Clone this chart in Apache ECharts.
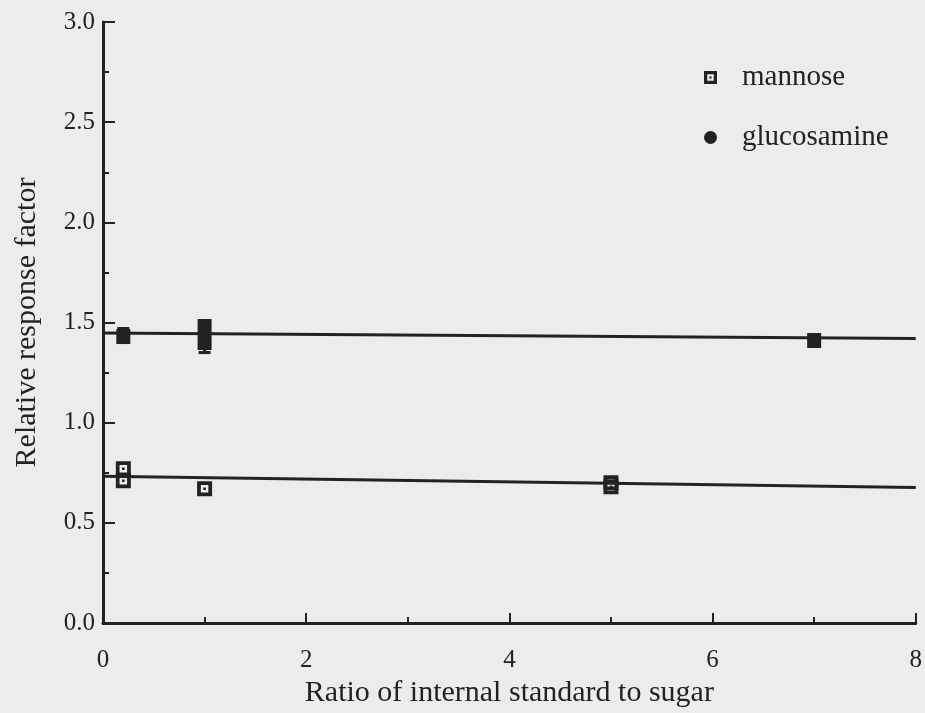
<!DOCTYPE html>
<html>
<head>
<meta charset="utf-8">
<script src="https://cdn.jsdelivr.net/npm/echarts@6/dist/echarts.min.js"></script>
<style>
  html, body { margin: 0; padding: 0; background: #ececec; }
  #chart { width: 925px; height: 713px; }
</style>
</head>
<body>
<div id="chart"></div>
<script>
// Relative response factor vs. ratio of internal standard to sugar
const xTicks = [0, 2, 4, 6, 8];
const yTicks = [0.0, 0.5, 1.0, 1.5, 2.0, 2.5, 3.0];

// measured points [ratio, response factor]
const mannosePoints = [[0.2, 0.77], [0.2, 0.71], [1.0, 0.67], [5.0, 0.70], [5.0, 0.68]];
const glucosaminePoints = [[0.2, 1.43], [1.0, 1.48], [1.0, 1.40], [7.0, 1.41]];

// error bars [ratio, low, high]
const glucosamineErrors = [[0.2, 1.40, 1.47], [1.0, 1.35, 1.51]];

// fitted lines, end points
const mannoseFit = [[0, 0.733], [8, 0.676]];
const glucosamineFit = [[0, 1.447], [8, 1.42]];

const ink = '#222222';
const paper = '#ececec';
const serif = '"Liberation Serif", "DejaVu Serif", serif';

// open square with a dot in its centre (hole wound the other way)
const openSquareDot = 'path://M0,0 L14,0 L14,14 L0,14 Z M3.5,3.5 L3.5,10.5 L10.5,10.5 L10.5,3.5 Z M5.8,5.8 L8.2,5.8 L8.2,8.2 L5.8,8.2 Z';

const chart = echarts.init(document.getElementById('chart'), null, { renderer: 'canvas' });

chart.setOption({
  backgroundColor: paper,
  animation: false,
  grid: { left: 103, right: 9, top: 22, bottom: 90, containLabel: false },
  legend: {
    orient: 'vertical',
    left: 699,
    top: 58,
    itemGap: 31,
    itemWidth: 13,
    itemHeight: 13,
    data: [
      { name: 'mannose', icon: openSquareDot, itemStyle: { color: ink } },
      { name: 'glucosamine', icon: 'circle', itemStyle: { color: ink } }
    ],
    textStyle: { fontFamily: serif, fontSize: 29, color: ink, padding: [0, 0, 0, 20] }
  },
  xAxis: {
    type: 'value',
    min: xTicks[0],
    max: xTicks[xTicks.length - 1],
    interval: 2,
    name: 'Ratio of internal standard to sugar',
    nameLocation: 'middle',
    nameGap: 51,
    nameTextStyle: { fontFamily: serif, fontSize: 30, color: ink },
    axisLine: { show: true, onZero: false, lineStyle: { color: ink, width: 3 } },
    axisTick: { show: true, inside: true, length: 10, lineStyle: { color: ink, width: 2 } },
    minorTick: { show: true, splitNumber: 2, length: 6, lineStyle: { color: ink, width: 2 } },
    axisLabel: {
      margin: 25, fontFamily: serif, fontSize: 25, color: ink,
      formatter: v => xTicks.includes(v) ? String(v) : ''
    },
    splitLine: { show: false }
  },
  yAxis: {
    type: 'value',
    min: yTicks[0],
    max: yTicks[yTicks.length - 1],
    interval: 0.5,
    name: 'Relative response factor',
    nameLocation: 'middle',
    nameGap: 61,
    nameTextStyle: { fontFamily: serif, fontSize: 30, color: ink },
    axisLine: { show: true, onZero: false, lineStyle: { color: ink, width: 3 } },
    axisTick: { show: true, inside: true, length: 12, lineStyle: { color: ink, width: 2 } },
    minorTick: { show: true, splitNumber: 2, length: 6, lineStyle: { color: ink, width: 2 } },
    axisLabel: {
      margin: 8, fontFamily: serif, fontSize: 25, color: ink,
      formatter: v => v.toFixed(1)
    },
    splitLine: { show: false }
  },
  series: [
    {
      name: 'glucosamine fit',
      type: 'line',
      data: glucosamineFit,
      showSymbol: false,
      symbol: 'none',
      lineStyle: { color: ink, width: 3 },
      z: 2
    },
    {
      name: 'mannose fit',
      type: 'line',
      data: mannoseFit,
      showSymbol: false,
      symbol: 'none',
      lineStyle: { color: ink, width: 3 },
      z: 2
    },
    {
      name: 'glucosamine error',
      type: 'custom',
      data: glucosamineErrors,
      z: 3,
      renderItem: function (params, api) {
        const x = api.value(0);
        const lo = api.coord([x, api.value(1)]);
        const hi = api.coord([x, api.value(2)]);
        const half = 6;
        const style = { stroke: ink, lineWidth: 3 };
        return {
          type: 'group',
          children: [
            { type: 'line', shape: { x1: lo[0], y1: lo[1], x2: hi[0], y2: hi[1] }, style: style },
            { type: 'line', shape: { x1: lo[0] - half, y1: lo[1], x2: lo[0] + half, y2: lo[1] }, style: style },
            { type: 'line', shape: { x1: hi[0] - half, y1: hi[1], x2: hi[0] + half, y2: hi[1] }, style: style }
          ]
        };
      }
    },
    {
      name: 'glucosamine',
      type: 'scatter',
      data: glucosaminePoints,
      symbol: 'rect',
      symbolSize: [14, 15],
      itemStyle: { color: ink, opacity: 1 },
      z: 4
    },
    {
      name: 'mannose',
      type: 'scatter',
      data: mannosePoints,
      symbol: openSquareDot,
      symbolSize: 15,
      itemStyle: { color: ink, opacity: 1 },
      z: 4
    }
  ]
});
</script>
</body>
</html>
